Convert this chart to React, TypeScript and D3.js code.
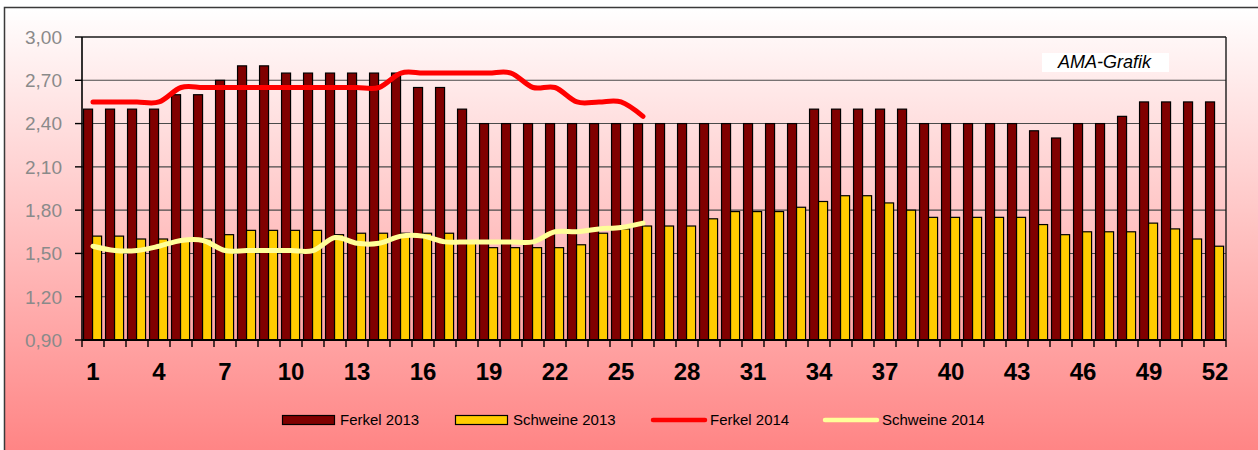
import * as d3 from "d3";
import { useEffect, useRef } from "react";

const weeks = [
  1, 2, 3, 4, 5, 6, 7, 8, 9, 10, 11, 12, 13, 14, 15, 16, 17, 18, 19, 20, 21, 22, 23, 24, 25, 26,
  27, 28, 29, 30, 31, 32, 33, 34, 35, 36, 37, 38, 39, 40, 41, 42, 43, 44, 45, 46, 47, 48, 49, 50,
  51, 52,
];

const ferkel2013 = [
  2.5, 2.5, 2.5, 2.5, 2.6, 2.6, 2.7, 2.8, 2.8, 2.75, 2.75, 2.75, 2.75, 2.75, 2.75, 2.65, 2.65, 2.5,
  2.4, 2.4, 2.4, 2.4, 2.4, 2.4, 2.4, 2.4, 2.4, 2.4, 2.4, 2.4, 2.4, 2.4, 2.4, 2.5, 2.5, 2.5, 2.5,
  2.5, 2.4, 2.4, 2.4, 2.4, 2.4, 2.35, 2.3, 2.4, 2.4, 2.45, 2.55, 2.55, 2.55, 2.55,
];

const schweine2013 = [
  1.62, 1.62, 1.6, 1.6, 1.6, 1.6, 1.63, 1.66, 1.66, 1.66, 1.66, 1.63, 1.64, 1.64, 1.64, 1.64, 1.64,
  1.58, 1.54, 1.54, 1.54, 1.54, 1.56, 1.64, 1.67, 1.69, 1.69, 1.69, 1.74, 1.79, 1.79, 1.79, 1.82,
  1.86, 1.9, 1.9, 1.85, 1.8, 1.75, 1.75, 1.75, 1.75, 1.75, 1.7, 1.63, 1.65, 1.65, 1.65, 1.71, 1.67,
  1.6, 1.55,
];

const ferkel2014 = [
  2.55, 2.55, 2.55, 2.55, 2.65, 2.65, 2.65, 2.65, 2.65, 2.65, 2.65, 2.65, 2.65, 2.65, 2.75, 2.75,
  2.75, 2.75, 2.75, 2.75, 2.65, 2.65, 2.55, 2.55, 2.55, 2.45,
];

const schweine2014 = [
  1.55, 1.52, 1.52, 1.55, 1.59, 1.59, 1.52, 1.52, 1.52, 1.52, 1.52, 1.61, 1.57, 1.57, 1.62, 1.62,
  1.58, 1.58, 1.58, 1.58, 1.58, 1.65, 1.65, 1.67, 1.68, 1.71,
];

const yTicks = [0.9, 1.2, 1.5, 1.8, 2.1, 2.4, 2.7, 3.0];
const xLabelWeeks = [1, 4, 7, 10, 13, 16, 19, 22, 25, 28, 31, 34, 37, 40, 43, 46, 49, 52];

const legendItems = [
  { label: "Ferkel 2013", type: "bar", color: "#800000" },
  { label: "Schweine 2013", type: "bar", color: "#FFCC00" },
  { label: "Ferkel 2014", type: "line", color: "#FF0000" },
  { label: "Schweine 2014", type: "line", color: "#FFFF99" },
];

const W = 1258;
const H = 450;

const App = () => {
  const ref = useRef<SVGSVGElement>(null);

  useEffect(() => {
    const margin = { top: 37, right: 32, bottom: 110, left: 82 };
    const width = W - margin.left - margin.right;
    const height = H - margin.top - margin.bottom;

    const root = d3.select(ref.current);
    root.selectAll("*").remove();

    const defs = root.append("defs");
    const grad = defs
      .append("linearGradient")
      .attr("id", "bg")
      .attr("x1", 0)
      .attr("y1", 0)
      .attr("x2", 0)
      .attr("y2", 1);
    grad.append("stop").attr("offset", "0%").attr("stop-color", "#FFFFFF");
    grad.append("stop").attr("offset", "100%").attr("stop-color", "#FF8080");

    // chart box
    root
      .append("rect")
      .attr("x", 4.5)
      .attr("y", 7.5)
      .attr("width", W + 10)
      .attr("height", H + 10)
      .attr("fill", "url(#bg)")
      .attr("stroke", "#3a3a3a")
      .attr("stroke-width", 1.5);

    const svg = root.append("g").attr("transform", `translate(${margin.left},${margin.top})`);

    const x = d3
      .scaleBand<number>()
      .domain(weeks)
      .range([0, width])
      .padding(0);
    const bw = x.bandwidth();
    const xs = d3
      .scaleBand<string>()
      .domain(["f", "s"])
      .range([bw * 0.07, bw * 0.89]);

    const y = d3.scaleLinear().domain([0.9, 3.0]).range([height, 0]);

    // grid
    svg
      .append("g")
      .selectAll("line")
      .data(yTicks.slice(1))
      .join("line")
      .attr("x1", 0)
      .attr("x2", width)
      .attr("y1", (d) => y(d))
      .attr("y2", (d) => y(d))
      .attr("stroke", (d) => (d === 3.0 ? "#1a1a1a" : "#4a4a4a"))
      .attr("stroke-width", (d) => (d === 3.0 ? 1.6 : 1.1));

    // right border of plot
    svg
      .append("line")
      .attr("x1", width)
      .attr("x2", width)
      .attr("y1", 0)
      .attr("y2", height)
      .attr("stroke", "#1a1a1a")
      .attr("stroke-width", 1.4);

    // bars
    svg
      .append("g")
      .selectAll("rect")
      .data(weeks)
      .join("rect")
      .attr("x", (d) => x(d)! + xs("f")!)
      .attr("y", (d, i) => y(ferkel2013[i]))
      .attr("width", xs.bandwidth())
      .attr("height", (d, i) => height - y(ferkel2013[i]))
      .attr("fill", "#800000")
      .attr("stroke", "#000")
      .attr("stroke-width", 1.2);

    svg
      .append("g")
      .selectAll("rect")
      .data(weeks)
      .join("rect")
      .attr("x", (d) => x(d)! + xs("s")!)
      .attr("y", (d, i) => y(schweine2013[i]))
      .attr("width", xs.bandwidth())
      .attr("height", (d, i) => height - y(schweine2013[i]))
      .attr("fill", "#FFCC00")
      .attr("stroke", "#000")
      .attr("stroke-width", 1.2);

    // smoothed lines
    const line = d3
      .line<number>()
      .x((d, i) => x(weeks[i])! + bw / 2)
      .y((d) => y(d))
      .curve(d3.curveCardinal.tension(0));

    svg
      .append("path")
      .datum(ferkel2014)
      .attr("d", line)
      .attr("fill", "none")
      .attr("stroke", "#FF0000")
      .attr("stroke-width", 5)
      .attr("stroke-linecap", "round");

    svg
      .append("path")
      .datum(schweine2014)
      .attr("d", line)
      .attr("fill", "none")
      .attr("stroke", "#FFFF99")
      .attr("stroke-width", 5)
      .attr("stroke-linecap", "round");

    // y axis
    const yAxis = svg.append("g");
    yAxis
      .append("line")
      .attr("x1", 0)
      .attr("x2", 0)
      .attr("y1", 0)
      .attr("y2", height)
      .attr("stroke", "#000")
      .attr("stroke-width", 1.6);
    yAxis
      .selectAll("line.tick")
      .data(yTicks)
      .join("line")
      .attr("class", "tick")
      .attr("x1", -7)
      .attr("x2", 0)
      .attr("y1", (d) => y(d))
      .attr("y2", (d) => y(d))
      .attr("stroke", "#000")
      .attr("stroke-width", 1.4);
    yAxis
      .selectAll("text")
      .data(yTicks)
      .join("text")
      .attr("x", -20)
      .attr("y", (d) => y(d))
      .attr("dy", "0.36em")
      .attr("text-anchor", "end")
      .attr("fill", "#8a8a8a")
      .attr("font-family", "Arial, 'Liberation Sans', sans-serif")
      .attr("font-size", 19)
      .text((d) => d.toFixed(2).replace(".", ","));

    // x axis
    const xAxis = svg.append("g").attr("transform", `translate(0,${height})`);
    xAxis
      .append("line")
      .attr("x1", 0)
      .attr("x2", width)
      .attr("stroke", "#000")
      .attr("stroke-width", 2);
    xAxis
      .selectAll("line.tick")
      .data([...weeks.map((w) => x(w)!), width])
      .join("line")
      .attr("class", "tick")
      .attr("x1", (d) => d)
      .attr("x2", (d) => d)
      .attr("y1", 0)
      .attr("y2", 7)
      .attr("stroke", "#000")
      .attr("stroke-width", 1.4);
    xAxis
      .selectAll("text")
      .data(xLabelWeeks)
      .join("text")
      .attr("x", (d) => x(d)! + bw / 2)
      .attr("y", 40)
      .attr("text-anchor", "middle")
      .attr("font-family", "Arial, 'Liberation Sans', sans-serif")
      .attr("font-weight", "bold")
      .attr("font-size", 24)
      .attr("fill", "#000")
      .text((d) => String(d));

    // AMA-Grafik label
    root
      .append("rect")
      .attr("x", 1042)
      .attr("y", 53)
      .attr("width", 127)
      .attr("height", 19)
      .attr("fill", "#FFFFFF");
    root
      .append("text")
      .attr("x", 1058)
      .attr("y", 68)
      .attr("font-family", "Arial, 'Liberation Sans', sans-serif")
      .attr("font-style", "italic")
      .attr("font-size", 18)
      .attr("fill", "#000")
      .text("AMA-Grafik");

    // legend
    const legendX = [282, 455, 652, 824];
    const lg = root.append("g").attr("transform", "translate(0,420)");
    const item = lg
      .selectAll("g")
      .data(legendItems)
      .join("g")
      .attr("transform", (d, i) => `translate(${legendX[i]},0)`);
    item
      .filter((d) => d.type === "bar")
      .append("rect")
      .attr("x", 0.5)
      .attr("y", -4.5)
      .attr("width", 52)
      .attr("height", 9)
      .attr("fill", (d) => d.color)
      .attr("stroke", "#000")
      .attr("stroke-width", 1.2);
    item
      .filter((d) => d.type === "line")
      .append("line")
      .attr("x1", 1)
      .attr("x2", 53)
      .attr("y1", 0)
      .attr("y2", 0)
      .attr("stroke", (d) => d.color)
      .attr("stroke-width", 4.5)
      .attr("stroke-linecap", "round");
    item
      .append("text")
      .attr("x", (d) => (d.type === "bar" ? 58 : 58))
      .attr("y", 5)
      .attr("font-family", "Arial, 'Liberation Sans', sans-serif")
      .attr("font-size", 15)
      .attr("fill", "#000")
      .text((d) => d.label);
  }, []);

  return (
    <svg
      ref={ref}
      width={W}
      height={H}
      style={{ position: "absolute", left: 0, top: 0, display: "block" }}
    />
  );
};

export default App;
